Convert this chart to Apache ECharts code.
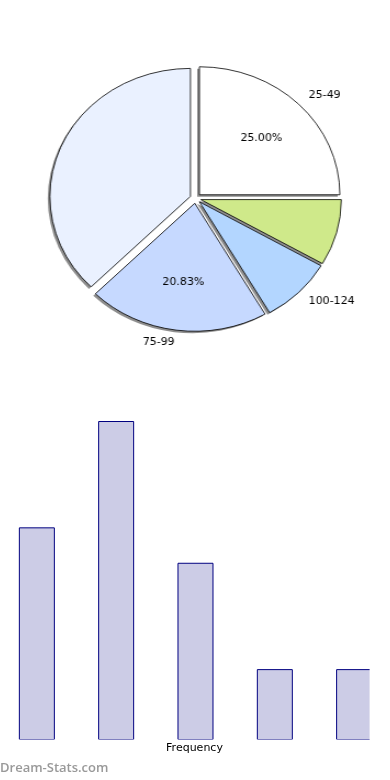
<!DOCTYPE html>
<html>
<head>
<meta charset="utf-8">
<script src="https://cdn.jsdelivr.net/npm/echarts@6/dist/echarts.min.js"></script>
<style>
html,body{margin:0;padding:0;background:#fff;width:390px;height:780px;overflow:hidden;}
#bar{position:absolute;left:0;top:0;width:390px;height:780px;}
#pie{position:absolute;left:0;top:0;width:390px;height:400px;transform:scaleX(1.0977);transform-origin:195.5px 198.3px;}
</style>
</head>
<body>
<div id="bar"></div>
<div id="pie"></div>
<script>
// Data
var categories = ['25-49', '50-74', '75-99', '100-124', '125-149'];
var frequencies = [6, 9, 5, 2, 2];
// pie drawing order (counter-clockwise from top)
var pieOrder = [1, 2, 3, 4, 0];
var pieColors = ['#ffffff', '#eaf1ff', '#c6d9ff', '#b3d6ff', '#cfe98a'];
var shownNames = ['25-49', '75-99', '100-124'];
var shownPercents = ['25-49', '75-99'];
var watermark = 'Dream-Stats.com';
var axisName = 'Frequency';

var FONT = 'DejaVu Sans';
var R = 128;
var C = [195.5, 198.3];
var total = frequencies.reduce(function (a, b) { return a + b; }, 0);

function pieData(kind) {
  return pieOrder.map(function (i) {
    var name = categories[i];
    var item = { name: name, value: frequencies[i], selected: true };
    if (kind === 'main') {
      item.itemStyle = { color: pieColors[i] };
      item.label = { show: shownNames.indexOf(name) >= 0 };
    } else if (kind === 'pct') {
      item.label = { show: shownPercents.indexOf(name) >= 0 };
    } else {
      item.label = { show: false };
    }
    return item;
  });
}

var common = {
  type: 'pie',
  startAngle: 90,
  clockwise: false,
  selectedMode: 'multiple',
  selectedOffset: 5,
  avoidLabelOverlap: false,
  silent: true,
  emphasis: { disabled: true }
};

var pie = echarts.init(document.getElementById('pie'), null, { renderer: 'canvas' });
pie.setOption({
  animation: false,
  series: [
    Object.assign({}, common, {
      z: 1,
      center: [C[0] - 2, C[1] + 2],
      radius: [0, R],
      itemStyle: { color: '#8e8e8e', borderWidth: 0 },
      label: { show: false },
      labelLine: { show: false },
      data: pieData('shadow')
    }),
    Object.assign({}, common, {
      z: 2,
      center: C,
      radius: [0, R],
      itemStyle: { borderColor: '#000', borderWidth: 0.8 },
      label: {
        position: 'outside',
        formatter: '{b}',
        fontFamily: FONT,
        fontSize: 10,
        color: '#000',
        distanceToLabelLine: 0,
        alignTo: 'none'
      },
      labelLine: { show: false, length: R * 0.1, length2: 0 },
      data: pieData('main')
    }),
    Object.assign({}, common, {
      z: 3,
      center: C,
      radius: [0, R * 1.2],
      itemStyle: { color: 'rgba(0,0,0,0)', borderWidth: 0 },
      label: {
        position: 'inside',
        fontFamily: FONT,
        fontSize: 10,
        color: '#000',
        formatter: function (p) { return (p.value / total * 100).toFixed(2) + '%'; }
      },
      labelLine: { show: false },
      data: pieData('pct')
    })
  ]
});

var bar = echarts.init(document.getElementById('bar'), null, { renderer: 'canvas' });
bar.setOption({
  animation: false,
  grid: { left: 19, right: 20, top: 421, bottom: 40, containLabel: false },
  graphic: [
    {
      type: 'rect',
      z: 100,
      shape: { x: 0, y: 739.6, width: 390, height: 2 },
      style: { fill: '#ffffff' }
    },
    {
      type: 'rect',
      z: 100,
      shape: { x: 369.6, y: 400, width: 21, height: 342 },
      style: { fill: '#ffffff' }
    },
    {
      type: 'text',
      z: 100,
      left: 0,
      top: 762,
      style: { text: watermark, fill: '#999999', font: '600 13px "Open Sans"' }
    }
  ],
  xAxis: {
    type: 'value',
    min: -0.225,
    max: 4.2,
    name: axisName,
    nameLocation: 'middle',
    nameGap: 3,
    nameTextStyle: { fontFamily: FONT, fontSize: 11, color: '#000', verticalAlign: 'top' },
    axisLine: { show: false },
    axisTick: { show: false },
    axisLabel: { show: false },
    splitLine: { show: false }
  },
  yAxis: {
    type: 'value',
    min: 0,
    max: 9,
    show: false,
    splitLine: { show: false }
  },
  series: [{
    type: 'bar',
    barWidth: 36,
    clip: true,
    itemStyle: { color: 'rgba(0,0,128,0.2)', borderColor: '#000080', borderWidth: 1 },
    data: frequencies.map(function (v, i) { return [i, v]; })
  }]
});
</script>
</body>
</html>
